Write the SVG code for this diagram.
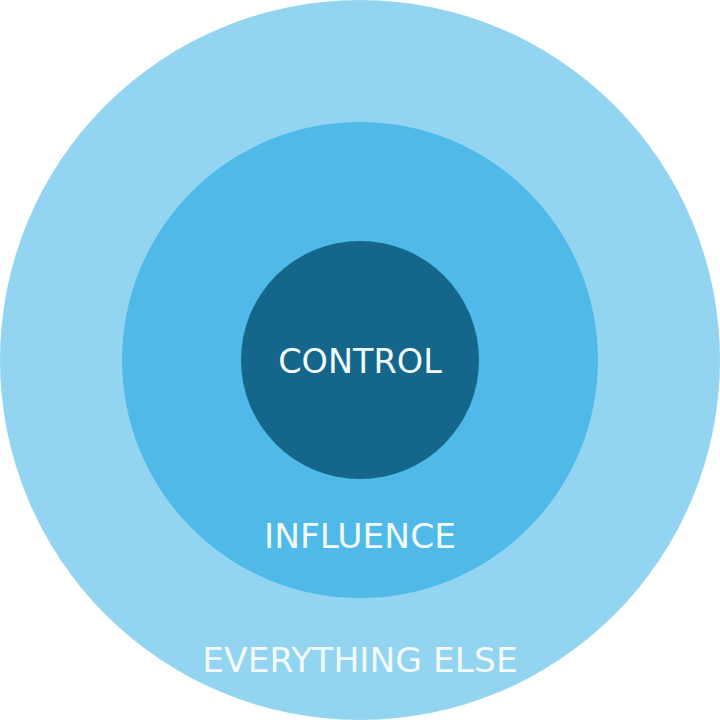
<svg xmlns="http://www.w3.org/2000/svg" width="720" height="720" viewBox="0 0 720 720">
<style>
.lbl{font-family:"DejaVu Sans","Verdana",sans-serif;font-size:34.5px;fill:#f2fbff;text-anchor:middle}
</style>
<rect width="720" height="720" fill="#ffffff"/>
<g id="everything-else">
<circle cx="360" cy="360" r="360" fill="#93d4f1"/>
<text class="lbl" x="360" y="672">EVERYTHING ELSE</text>
</g>
<g id="influence">
<circle cx="360" cy="360" r="238" fill="#4fb9e8"/>
<text class="lbl" x="360" y="548">INFLUENCE</text>
</g>
<g id="control">
<circle cx="360" cy="360" r="119" fill="#14668a"/>
<text class="lbl" x="360" y="373" style="font-size:33.5px">CONTROL</text>
</g>
</svg>
